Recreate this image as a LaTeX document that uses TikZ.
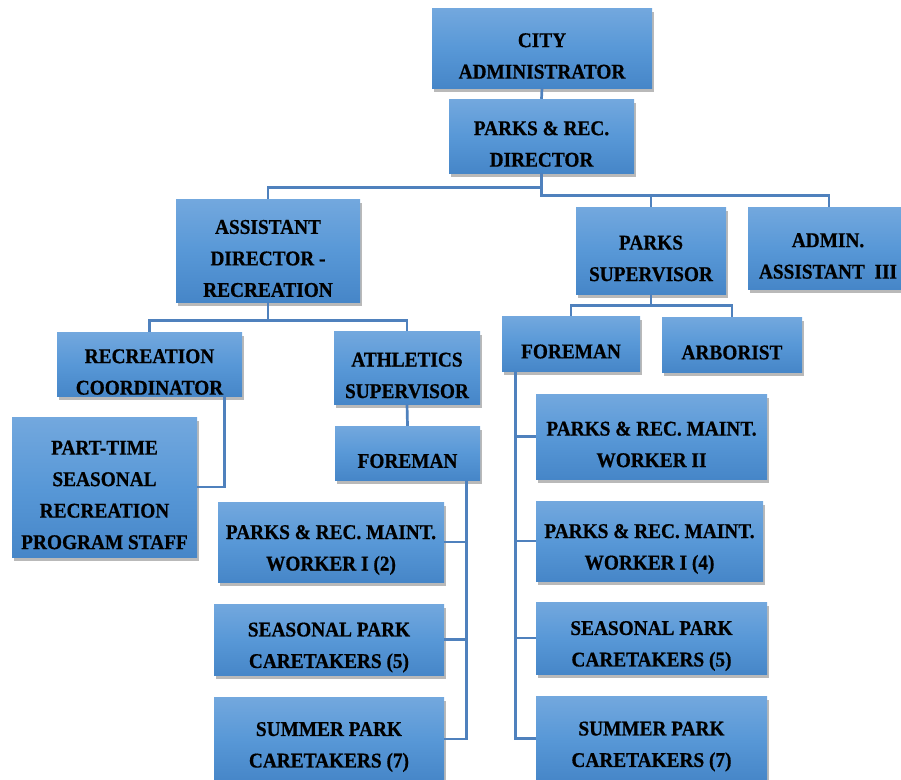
\documentclass[tikz,border=0pt]{standalone}
\usepackage{fontspec}
\setmainfont{Liberation Serif}[BoldFeatures={FakeBold=0.6,FakeStretch=0.92}]
\usetikzlibrary{positioning,shadows,calc}

\definecolor{boxtop}{RGB}{115,168,222}
\definecolor{boxmid}{RGB}{88,152,215}
\definecolor{boxbot}{RGB}{70,134,200}
\definecolor{linkblue}{RGB}{79,129,189}

\begin{document}
\begin{tikzpicture}[x=1pt, y=-1pt, font=\fontsize{21}{31.5}\selectfont\bfseries]
  \tikzstyle{box}=[rectangle,inner sep=0pt,top color=boxtop,bottom color=boxbot,middle color=boxmid,drop shadow={opacity=0.55,shadow xshift=2pt,shadow yshift=-3.5pt}]
  \tikzstyle{lbl}=[align=center,yshift=-8pt]
  \tikzstyle{conn}=[draw=linkblue,line width=2.7pt]
  \useasboundingbox (0,0) rectangle (901,779);
  % top of the chart
  \node[box,minimum width=220,minimum height=80] (cityadm) at (542,48) {};
  \node[box,minimum width=185,minimum height=74] (director) at (541.5,136) {};
  \node[box,minimum width=184,minimum height=103] (asstdir) at (268,250.5) {};
  \node[box,minimum width=150,minimum height=87] (parksup) at (651,250.5) {};
  \node[box,minimum width=162,minimum height=82] (admin) at (829,248) {};
  % recreation side
  \node[box,minimum width=185,minimum height=64] (reccoord) at (149.5,364) {};
  \node[box,minimum width=146,minimum height=73] (athsup) at (407,367.5) {};
  \node[box,minimum width=145,minimum height=54] (foremanL) at (407.5,453) {};
  \node[box,minimum width=185,minimum height=140] (parttime) at (104.5,487) {};
  \node[box,minimum width=226,minimum height=80] (maintIa) at (331,542) {};
  \node[box,minimum width=230,minimum height=71] (seasL) at (329,639.5) {};
  \node[box,minimum width=230,minimum height=84] (summL) at (329,739) {};
  % parks side
  \node[box,minimum width=138,minimum height=55] (foremanR) at (571,343.5) {};
  \node[box,minimum width=140,minimum height=55] (arborist) at (732,344.5) {};
  \node[box,minimum width=231,minimum height=85] (maintII) at (651.5,436.5) {};
  \node[box,minimum width=227,minimum height=80] (maintIb) at (649.5,541) {};
  \node[box,minimum width=231,minimum height=72] (seasR) at (651.5,638) {};
  \node[box,minimum width=231,minimum height=85] (summR) at (651.5,738.5) {};
  % texts
  \node[lbl] (tcityadm) at (cityadm) {CITY\\ADMINISTRATOR};
  \node[lbl] (tdirector) at (director) {PARKS \& REC.\\DIRECTOR};
  \node[lbl] (tasstdir) at (asstdir) {ASSISTANT\\DIRECTOR -\\RECREATION};
  \node[lbl] (tparksup) at (parksup) {PARKS\\SUPERVISOR};
  \node[lbl,xshift=-1pt] (tadmin) at (admin) {ADMIN.\\ASSISTANT~~III};
  \node[lbl] (treccoord) at (reccoord) {RECREATION\\COORDINATOR};
  \node[lbl] (tathsup) at (athsup) {ATHLETICS\\SUPERVISOR};
  \node[lbl] (tforemanL) at (foremanL) {FOREMAN};
  \node[lbl] (tparttime) at (parttime) {PART-TIME\\SEASONAL\\RECREATION\\PROGRAM STAFF};
  \node[lbl] (tmaintIa) at (maintIa) {PARKS \& REC. MAINT.\\WORKER I (2)};
  \node[lbl] (tseasL) at (seasL) {SEASONAL PARK\\CARETAKERS (5)};
  \node[lbl] (tsummL) at (summL) {SUMMER PARK\\CARETAKERS (7)};
  \node[lbl] (tforemanR) at (foremanR) {FOREMAN};
  \node[lbl] (tarborist) at (arborist) {ARBORIST};
  \node[lbl] (tmaintII) at (maintII) {PARKS \& REC. MAINT.\\WORKER II};
  \node[lbl] (tmaintIb) at (maintIb) {PARKS \& REC. MAINT.\\WORKER I (4)};
  \node[lbl] (tseasR) at (seasR) {SEASONAL PARK\\CARETAKERS (5)};
  \node[lbl] (tsummR) at (summR) {SUMMER PARK\\CARETAKERS (7)};
  % connectors
  \draw[conn] (cityadm.south) -- (director.north);
  \draw[conn] (director.south) -- ++(0,14) -| (asstdir.north);
  \draw[conn] (director.south) -- ++(0,22) -| (parksup.north);
  \draw[conn] (director.south) -- ++(0,22) -| (admin.north);
  \draw[conn] (asstdir.south) -- ++(0,18) -| (reccoord.north);
  \draw[conn] (asstdir.south) -- ++(0,18) -| (athsup.north);
  \draw[conn] (athsup.south) -- (foremanL.north);
  \draw[conn] ([xshift=-18pt]reccoord.south east) |- (parttime.east);
  \draw[conn] ([xshift=-14pt]foremanL.south east) |- (maintIa.east);
  \draw[conn] ([xshift=-14pt]foremanL.south east) |- (seasL.east);
  \draw[conn] ([xshift=-14pt]foremanL.south east) |- (summL.east);
  \draw[conn] (parksup.south) -- ++(0,11) -| (foremanR.north);
  \draw[conn] (parksup.south) -- ++(0,11) -| (arborist.north);
  \draw[conn] ([xshift=14pt]foremanR.south west) |- (maintII.west);
  \draw[conn] ([xshift=14pt]foremanR.south west) |- (maintIb.west);
  \draw[conn] ([xshift=14pt]foremanR.south west) |- (seasR.west);
  \draw[conn] ([xshift=14pt]foremanR.south west) |- (summR.west);
\end{tikzpicture}
\end{document}
